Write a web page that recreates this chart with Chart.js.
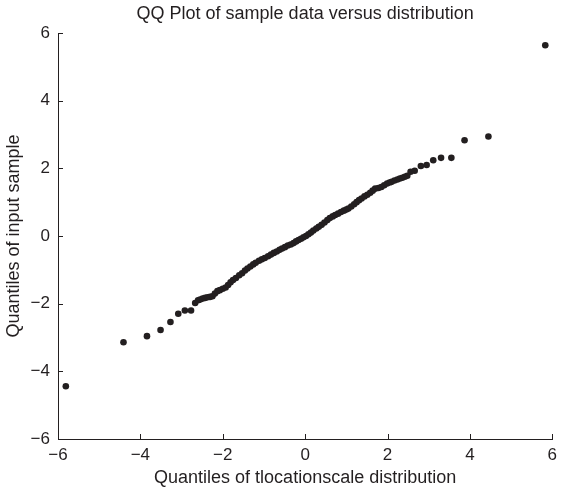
<!DOCTYPE html>
<html>
<head>
<meta charset="utf-8">
<script src="https://cdn.jsdelivr.net/npm/chart.js@4.4.1/dist/chart.umd.min.js"></script>
<style>
  html, body { margin: 0; padding: 0; background: #fff; }
  #wrap { width: 563px; height: 490px; }
</style>
</head>
<body>
<div id="wrap"><canvas id="qqChart" width="563" height="490"></canvas></div>
<script>
// quantiles of the tlocationscale fit (x) against the sample (y)
var theoretical = [
    -5.81, -4.41, -3.84, -3.51, -3.27, -3.08, -2.92, -2.77, -2.67,
    -2.60, -2.55, -2.49, -2.43, -2.37, -2.31, -2.25, -2.19, -2.13, -2.07,
    -2.00, -1.93, -1.87, -1.81, -1.75, -1.68, -1.60, -1.53, -1.46, -1.40,
    -1.33, -1.26, -1.20, -1.12, -1.05, -0.98, -0.90, -0.83, -0.76, -0.69,
    -0.62, -0.56, -0.49, -0.42, -0.35, -0.28, -0.22, -0.16, -0.10, -0.04,
    0.02, 0.08, 0.14, 0.20, 0.27, 0.33, 0.40, 0.47, 0.54, 0.60,
    0.67, 0.73, 0.80, 0.87, 0.94, 1.00, 1.05, 1.12, 1.19, 1.25,
    1.31, 1.37, 1.44, 1.51, 1.58, 1.64, 1.70, 1.78, 1.85, 1.92,
    1.99, 2.05, 2.10, 2.17, 2.24, 2.30, 2.36, 2.42, 2.48,
    2.56, 2.66, 2.81, 2.95, 3.11, 3.30, 3.55, 3.87, 4.45, 5.83
];
var sample = [
    -4.44, -3.14, -2.96, -2.78, -2.54, -2.30, -2.20, -2.20, -1.98,
    -1.90, -1.88, -1.85, -1.83, -1.81, -1.80, -1.78, -1.70, -1.63, -1.60,
    -1.56, -1.52, -1.45, -1.37, -1.30, -1.24, -1.16, -1.10, -1.02, -0.96,
    -0.90, -0.84, -0.79, -0.73, -0.69, -0.65, -0.60, -0.55, -0.50, -0.46,
    -0.41, -0.37, -0.33, -0.28, -0.25, -0.21, -0.16, -0.12, -0.08, -0.04,
    0.00, 0.05, 0.10, 0.16, 0.22, 0.27, 0.33, 0.40, 0.47, 0.53,
    0.58, 0.62, 0.66, 0.71, 0.75, 0.78, 0.81, 0.87, 0.94, 1.00,
    1.06, 1.11, 1.17, 1.22, 1.28, 1.34, 1.40, 1.42, 1.45, 1.50,
    1.55, 1.58, 1.60, 1.64, 1.67, 1.70, 1.72, 1.75, 1.78,
    1.90, 1.93, 2.07, 2.10, 2.24, 2.31, 2.31, 2.83, 2.94, 5.64
];
var xTicks = [-6, -4, -2, 0, 2, 4, 6];
var yTicks = [-6, -4, -2, 0, 2, 4, 6];

var ink = '#231f20';
var family = '"Liberation Sans", Arial, Helvetica, sans-serif';
var tickFont = { family: family, size: 17 };
var labelFont = { family: family, size: 18 };

var points = theoretical.map(function (x, i) {
    return { x: x, y: sample[i] };
});

function minusSign(v) {
    return String(v).replace('-', '\u2212');
}

/* short tick marks pointing into the plot, like the original */
var inwardTicks = {
    id: 'inwardTicks',
    afterDraw: function (chart) {
        var ctx = chart.ctx;
        var area = chart.chartArea;
        var xs = chart.scales.x;
        var ys = chart.scales.y;
        ctx.save();
        ctx.strokeStyle = ink;
        ctx.lineWidth = 1;
        ctx.beginPath();
        xTicks.forEach(function (t) {
            var px = Math.round(xs.getPixelForValue(t)) + 0.5;
            ctx.moveTo(px, area.bottom);
            ctx.lineTo(px, area.bottom - 5);
        });
        yTicks.forEach(function (t) {
            var py = Math.round(ys.getPixelForValue(t)) + 0.5;
            ctx.moveTo(area.left, py);
            ctx.lineTo(area.left + 5, py);
        });
        ctx.stroke();
        ctx.restore();
    }
};

var ctx = document.getElementById('qqChart').getContext('2d');
var chart = new Chart(ctx, {
    type: 'scatter',
    data: {
        datasets: [{
            data: points,
            pointRadius: 3.3,
            pointHoverRadius: 3.3,
            pointBackgroundColor: ink,
            pointBorderWidth: 0,
            borderColor: ink
        }]
    },
    options: {
        responsive: false,
        animation: false,
        layout: { padding: { left: 0, right: 8, top: 0, bottom: 0 } },
        plugins: {
            legend: { display: false },
            tooltip: { enabled: false },
            title: {
                display: true,
                fullSize: false,
                text: 'QQ Plot of sample data versus distribution',
                color: ink,
                font: { family: family, size: 18, weight: 'normal' },
                padding: { top: 3, bottom: 8.4 }
            }
        },
        scales: {
            x: {
                type: 'linear',
                min: -6,
                max: 6,
                afterBuildTicks: function (s) { s.ticks = xTicks.map(function (v) { return { value: v }; }); },
                afterFit: function (s) { s.height = 51; },
                grid: { display: false, drawTicks: false },
                border: { display: true, color: ink, width: 1 },
                ticks: {
                    color: ink,
                    font: tickFont,
                    padding: 6,
                    maxRotation: 0,
                    callback: function (v) { return minusSign(v); }
                },
                title: {
                    display: true,
                    text: 'Quantiles of tlocationscale distribution',
                    color: ink,
                    font: labelFont,
                    padding: { top: 1, bottom: 1 }
                }
            },
            y: {
                type: 'linear',
                min: -6,
                max: 6,
                afterBuildTicks: function (s) { s.ticks = yTicks.map(function (v) { return { value: v }; }); },
                afterFit: function (s) { s.width = 58; },
                grid: { display: false, drawTicks: false },
                border: { display: true, color: ink, width: 1 },
                ticks: {
                    color: ink,
                    font: tickFont,
                    padding: 8,
                    callback: function (v) { return minusSign(v); }
                },
                title: {
                    display: true,
                    text: 'Quantiles of input sample',
                    color: ink,
                    font: labelFont,
                    padding: { top: 3, bottom: 3 }
                }
            }
        }
    },
    plugins: [inwardTicks]
});
</script>
</body>
</html>
